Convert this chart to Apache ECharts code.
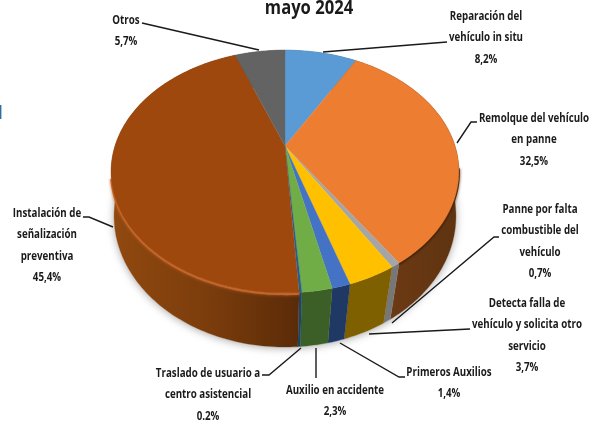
<!DOCTYPE html>
<html><head><meta charset="utf-8">
<style>html,body{margin:0;padding:0;background:#fff}#c{width:601px;height:421px;filter:blur(0.35px)}</style>
<script src="https://cdn.jsdelivr.net/npm/echarts@6/dist/echarts.min.js"></script></head>
<body><div id="c"></div>
<script>
const categories = ['Reparación del\nvehículo in situ','Remolque del vehículo\nen panne','Panne por falta\ncombustible del\nvehículo','Detecta falla de\nvehículo y solicita otro\nservicio','Primeros Auxilios','Auxilio en accidente','Traslado de usuario a\ncentro asistencial','Instalación de\nseñalización\npreventiva','Otros'];
const values = [8.2,32.5,0.7,3.7,1.4,2.3,0.2,45.4,5.7];
const valueLabels = ['8,2%','32,5%','0,7%','3,7%','1,4%','2,3%','0.2%','45,4%','5,7%'];
const titleText = 'mayo 2024';

const topColors = ['#5b9bd5','#ed7d31','#a5a5a5','#ffc000','#4472c4','#70ad47','#255e91','#9e480e','#636363'];
const wallColors = ['#2f5f8a','#6a3913','#777777','#7f6000','#203864','#3c5f27','#1b4468','#6b330b','#444444'];
const labelCenters = [[486,16],[534,118],[540,209],[527,303],[449,372],[335,390],[208,373],[47,213],[126,20]];
const leaders = [
 [[447,42],[323,52]],
 [[477,122],[471,122],[457,143]],
 [[499,237],[494,237],[392,323]],
 [[470,329],[369,334]],
 [[405,377],[399,377],[340,343]],
 [[316,378],[316,348]],
 [[262,375],[269,375],[301,348]],
 [[83,217],[89,217],[113,227]],
 [[142,23],[259,50]]
];
const topRim = {cx:285, cy:146, R:170, Q:116, k:0.21};
const botRim = {cx:285, cy:199, R:169.5, Q:128.8, k:0.13};
const FONT = '"Open Sans",sans-serif';
const LINE_H = 21.5;
const TEXT_SCALE = 0.75;

const total = values.reduce((a,b)=>a+b,0);
const starts = []; values.reduce((acc,v,i)=>{starts[i]=acc; return acc+v;},0);
function project(rim,t){
  const u=Math.sin(t), v=Math.cos(t), d=1+rim.k*v;
  return [rim.cx+rim.R*u/d, rim.cy-rim.Q*v/d];
}
function arc(rim,a,b){
  const n=Math.max(2,Math.ceil((b-a)/0.02)), pts=[];
  for(let i=0;i<=n;i++) pts.push(project(rim,a+(b-a)*i/n));
  return pts;
}
function range(i){
  return [starts[i]/total*2*Math.PI,(starts[i]+values[i])/total*2*Math.PI];
}
const G = echarts.graphic.LinearGradient;
function wallFill(i){
  if(i===7) return new G(110,0,300,0,[{offset:0,color:'#91490f'},{offset:.5,color:'#7c3d0c'},{offset:1,color:'#5a2b08'}],true);
  if(i===1) return new G(390,0,460,0,[{offset:0,color:'#6c3a14'},{offset:1,color:'#5e3310'}],true);
  return wallColors[i];
}
const chart = echarts.init(document.getElementById('c'),null,{renderer:'canvas'});
chart.setOption({
  animation:false,
  backgroundColor:'#fff',
  graphic:[
    {type:'rect',shape:{x:0,y:105,width:1.4,height:14},style:{fill:'#2e6ea8'}},
    {type:'text',x:309,y:-2,scaleX:.83,z:5,style:{text:titleText,x:0,y:0,align:'center',verticalAlign:'top',font:'bold 20px '+FONT,fill:'#1a1a1a'}}
  ],
  series:[
   { type:'custom', coordinateSystem:'none', z:1, silent:true, data:values.map((v,i)=>[i,v]),
     renderItem(p,api){
       const i=api.value(0), [a,b]=range(i), kids=[];
       if(i===0){
         kids.push({type:'polygon',shape:{points:arc(botRim,0,2*Math.PI)},style:{fill:'#fff',shadowColor:'rgba(0,0,0,.35)',shadowBlur:9,shadowOffsetY:1}});
       }
       const pts=arc(topRim,a,b).concat(arc(botRim,a,b).reverse());
       kids.push({type:'polygon',shape:{points:pts},style:{fill:wallFill(i),stroke:wallFill(i),lineWidth:.3}});
       return {type:'group',children:kids};
     }},
   { type:'custom', coordinateSystem:'none', z:2, silent:true, data:values.map((v,i)=>[i,v]),
     renderItem(p,api){
       const i=api.value(0), [a,b]=range(i), kids=[];
       const pts=[[topRim.cx,topRim.cy]].concat(arc(topRim,a,b));
       if(i===7){
         kids.push({type:'polyline',shape:{points:arc(topRim,a,4.45).map(q=>[q[0],q[1]+1.2])},style:{fill:null,stroke:'#c4662a',lineWidth:2.2,shadowColor:'#c4662a',shadowBlur:3}});
       }
       if(i===1){
         kids.push({type:'polyline',shape:{points:arc(topRim,1.75,b).map(q=>[q[0],q[1]+1])},style:{fill:null,stroke:'#4a2608',lineWidth:2,shadowColor:'#4a2608',shadowBlur:3}});
       }
       kids.push({type:'polygon',shape:{points:pts},style:{fill:topColors[i],stroke:topColors[i],lineWidth:.3}});
       return {type:'group',children:kids};
     }},
   { type:'custom', coordinateSystem:'none', z:3, silent:true, data:values.map((v,i)=>[i,v]),
     renderItem(p,api){
       const i=api.value(0), c=labelCenters[i];
       return {type:'group',children:[
         {type:'polyline',shape:{points:leaders[i]},style:{fill:null,stroke:'#1a1a1a',lineWidth:1.4}},
         {type:'text',x:c[0],y:c[1]-LINE_H/2,scaleX:TEXT_SCALE,style:{text:categories[i]+'\n'+valueLabels[i],x:0,y:0,align:'center',verticalAlign:'top',
            font:'bold 13px '+FONT,lineHeight:LINE_H,fill:'#1a1a1a'}}
       ]};
     }}
  ]
});
</script></body></html>
